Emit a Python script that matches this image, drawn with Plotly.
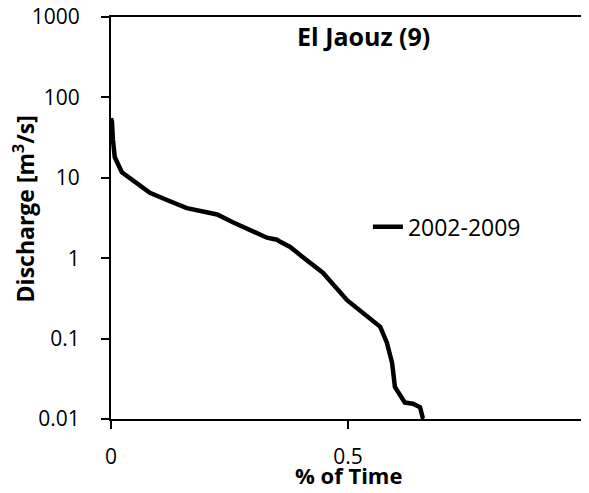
import plotly.graph_objects as go

time_frac = [0.0, 0.002, 0.004, 0.006, 0.008, 0.023, 0.046, 0.082, 0.118, 0.160, 0.224, 0.257,
             0.329, 0.350, 0.357, 0.378, 0.405, 0.426, 0.447, 0.498, 0.511, 0.546, 0.561, 0.568,
             0.582, 0.593, 0.599, 0.610, 0.620, 0.637, 0.652, 0.658, 0.660]
discharge = [55, 50, 30, 22, 18, 11.7, 9.3, 6.5, 5.3, 4.2, 3.5, 2.8,
             1.8, 1.7, 1.6, 1.38, 1.03, 0.82, 0.66, 0.30, 0.26, 0.18, 0.155, 0.14,
             0.089, 0.050, 0.025, 0.020, 0.016, 0.0155, 0.014, 0.0102, 0.01]
series_name = "2002-2009"
title_text = "El Jaouz (9)"
x_title = "% of Time"
y_title = "Discharge [m<sup>3</sup>/s]"
x_ticks = [0, 0.5, 1]
x_tick_labels = ["0", "0.5", "1"]
y_ticks = [0.01, 0.1, 1, 10, 100, 1000]
y_tick_labels = ["0.01", "0.1", "1", "10", "100", "1000"]

FONT = "Open Sans"

fig = go.Figure()
fig.add_trace(go.Scatter(x=time_frac, y=discharge, mode="lines", name=series_name,
                         line=dict(color="black", width=4.5), showlegend=True))

axis_common = dict(showgrid=False, zeroline=False, showline=True, linecolor="black",
                   linewidth=2, mirror=True, ticks="outside", ticklen=8, tickwidth=2,
                   tickcolor="black", tickfont=dict(size=21, family=FONT), automargin=False,
                   ticklabeloverflow="allow")

# the page body has an 8px margin, so the figure is sized/offset to compensate
fig.update_layout(
    width=581, height=485,
    margin=dict(l=103, r=4, t=9, b=74),
    paper_bgcolor="white", plot_bgcolor="white",
    font=dict(family=FONT, color="black", size=21),
    showlegend=True,
    legend=dict(x=0.542, y=0.478, xanchor="left", yanchor="middle",
                bgcolor="rgba(0,0,0,0)", font=dict(size=23, family=FONT)),
    xaxis=dict(range=[0, 1], tickvals=x_ticks, ticktext=x_tick_labels,
               ticklabelstandoff=10, **axis_common),
    yaxis=dict(type="log", range=[-2, 3], tickvals=y_ticks, ticktext=y_tick_labels,
               ticklabelstandoff=17, **axis_common),
    annotations=[
        dict(text="<b>" + title_text + "</b>", x=0.533, y=0.953, xref="paper", yref="paper",
             xanchor="center", yanchor="middle", showarrow=False, font=dict(size=25)),
        dict(text="<b>" + x_title + "</b>", x=0.5, y=-0.14, xref="paper", yref="paper",
             xanchor="center", yanchor="middle", showarrow=False, font=dict(size=22)),
        dict(text="<b>" + y_title + "</b>", x=-0.183, y=0.522, xref="paper", yref="paper",
             xanchor="center", yanchor="middle", showarrow=False, textangle=-90,
             font=dict(size=23)),
    ],
)

fig.write_html("out.html")
